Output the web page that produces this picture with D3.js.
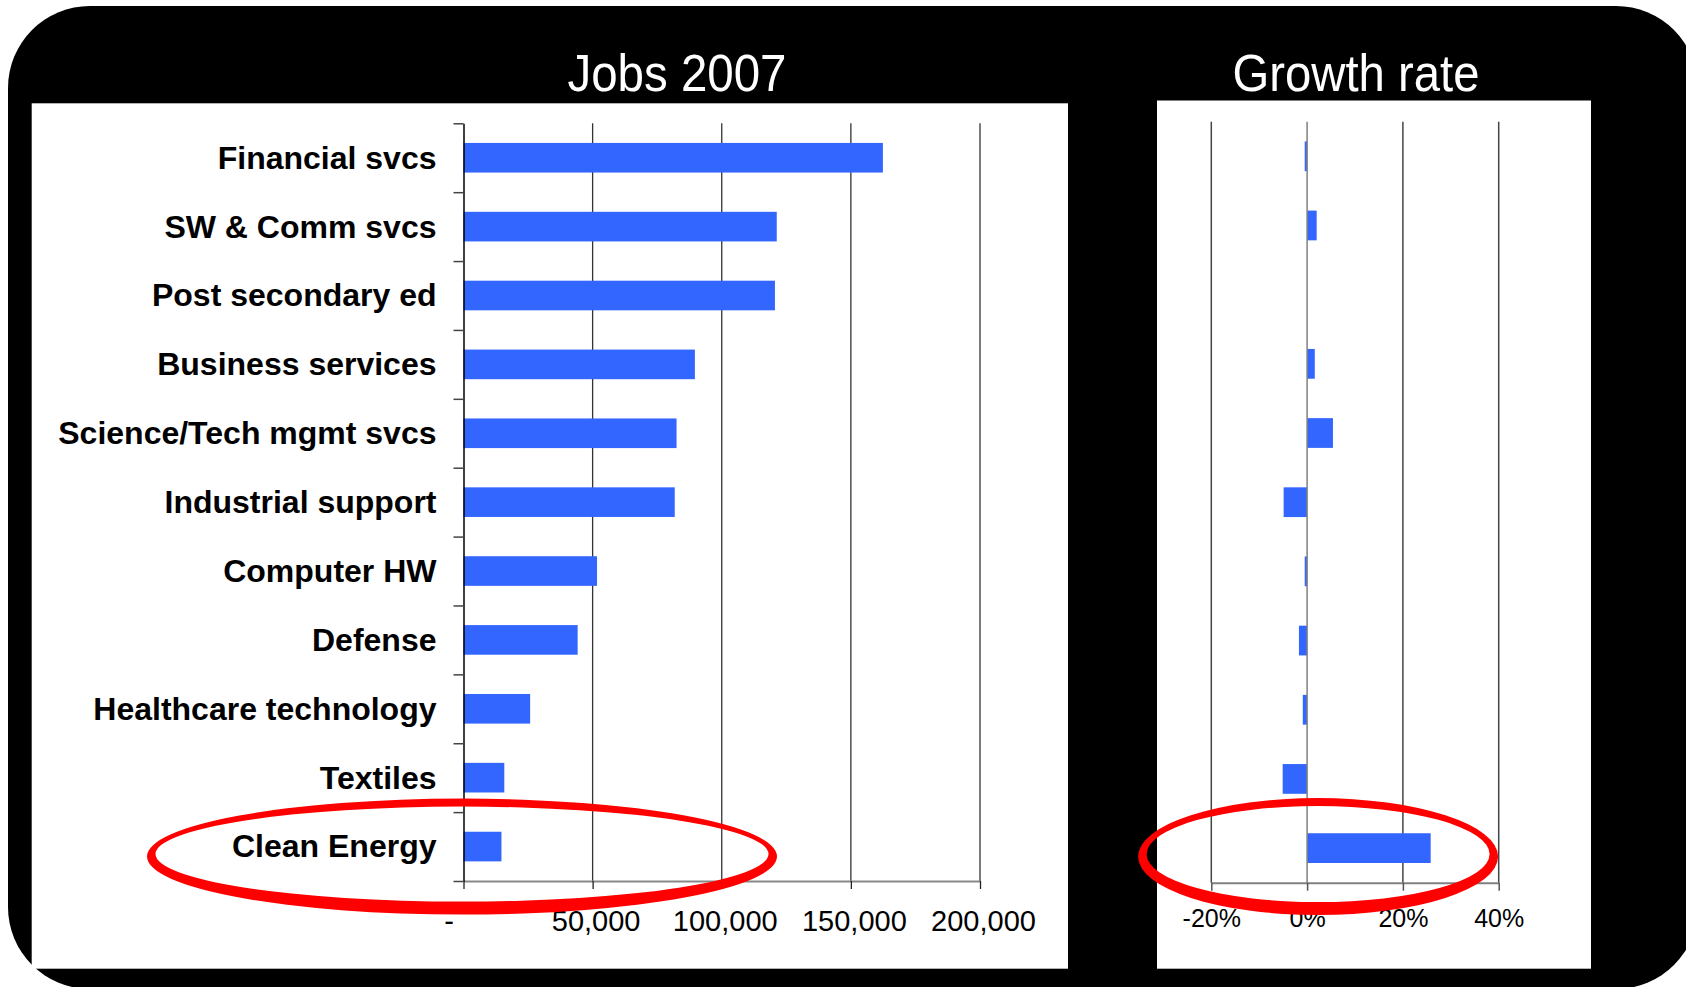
<!DOCTYPE html>
<html>
<head>
<meta charset="utf-8">
<script src="https://cdn.jsdelivr.net/npm/d3@7"></script>
<style>
  body { margin: 0; background: #fff; }
  text { font-family: "Liberation Sans", Arial, sans-serif; }
</style>
</head>
<body>
<div id="chart"></div>
<script>
const categories = [
  "Financial svcs", "SW & Comm svcs", "Post secondary ed", "Business services",
  "Science/Tech mgmt svcs", "Industrial support", "Computer HW", "Defense",
  "Healthcare technology", "Textiles", "Clean Energy"
];
const jobs2007 = [162400, 121300, 120600, 89600, 82500, 81800, 51700, 44200, 25800, 15800, 14700];
const growthRate = [-0.005, 0.020, 0, 0.016, 0.054, -0.049, -0.005, -0.017, -0.009, -0.051, 0.258];
const jobsTicks = [0, 50000, 100000, 150000, 200000];
const growthTicks = [-0.2, 0, 0.2, 0.4];
const highlighted = "Clean Energy";

const W = 1686, H = 987;
const barColor = "#3366ff";

const svg = d3.select("#chart").append("svg")
  .attr("width", W)
  .attr("height", H);

// black rounded frame and the two white panels
svg.append("rect")
  .attr("x", 8).attr("y", 6)
  .attr("width", 1690).attr("height", 983)
  .attr("rx", 82).attr("ry", 82)
  .attr("fill", "#000");
svg.append("rect")
  .attr("x", 31.7).attr("y", 103.3)
  .attr("width", 1068 - 31.7).attr("height", 968.7 - 103.3)
  .attr("fill", "#fff");
svg.append("rect")
  .attr("x", 1157).attr("y", 100.5)
  .attr("width", 1591 - 1157).attr("height", 968.7 - 100.5)
  .attr("fill", "#fff");

// titles
svg.append("text")
  .attr("x", 677).attr("y", 91)
  .attr("text-anchor", "middle")
  .attr("fill", "#fff")
  .attr("font-size", 52)
  .attr("textLength", 219).attr("lengthAdjust", "spacingAndGlyphs")
  .text("Jobs 2007");
svg.append("text")
  .attr("x", 1356).attr("y", 91)
  .attr("text-anchor", "middle")
  .attr("fill", "#fff")
  .attr("font-size", 52)
  .attr("textLength", 247).attr("lengthAdjust", "spacingAndGlyphs")
  .text("Growth rate");

// ---------- left chart: jobs ----------
const jobs = { top: 123.3, bottom: 881, left: 463.5, right: 980 };

const xJobs = d3.scaleLinear()
  .domain([0, 200000])
  .range([jobs.left, jobs.right]);

const yJobs = d3.scaleBand()
  .domain(categories)
  .range([jobs.top, jobs.bottom])
  .paddingInner(0.57)
  .paddingOuter(0.285);

const gJobs = svg.append("g");

// gridlines
gJobs.append("g")
  .selectAll("line")
  .data(jobsTicks.filter(d => d > 0))
  .join("line")
  .attr("x1", d => xJobs(d)).attr("x2", d => xJobs(d))
  .attr("y1", jobs.top).attr("y2", jobs.bottom)
  .attr("stroke", "#333")
  .attr("stroke-width", 1.3);

// bars
gJobs.append("g")
  .selectAll("rect")
  .data(categories)
  .join("rect")
  .attr("x", xJobs(0))
  .attr("y", d => yJobs(d))
  .attr("width", (d, i) => xJobs(jobs2007[i]) - xJobs(0))
  .attr("height", yJobs.bandwidth())
  .attr("fill", barColor);

// bottom value axis
const xAxisJobs = gJobs.append("g")
  .attr("transform", `translate(0,${jobs.bottom})`)
  .call(d3.axisBottom(xJobs)
    .tickValues(jobsTicks)
    .tickSize(8)
    .tickSizeOuter(0)
    .tickPadding(21)
    .tickFormat(d => d === 0 ? "-" : d3.format(",")(d)));
xAxisJobs.select(".domain").attr("stroke", "#888").attr("stroke-width", 2);
xAxisJobs.selectAll(".tick line").attr("stroke", "#222").attr("stroke-width", 1.3);
xAxisJobs.selectAll(".tick text")
  .attr("font-size", 29)
  .attr("fill", "#000")
  .attr("dx", d => d === 0 ? -15 : 3);

// category axis: ticks between categories, then the labels
const boundary = d3.scaleLinear()
  .domain([0, categories.length])
  .range([jobs.top, jobs.bottom]);
const catTicks = gJobs.append("g")
  .attr("transform", `translate(${xJobs(0)},0)`)
  .call(d3.axisLeft(boundary)
    .tickValues(d3.range(categories.length + 1))
    .tickSize(10)
    .tickSizeOuter(0)
    .tickFormat(""));
catTicks.select(".domain").attr("stroke", "#000").attr("stroke-width", 1.5);
catTicks.selectAll(".tick line").attr("stroke", "#444").attr("stroke-width", 1.5);

const catLabels = gJobs.append("g")
  .attr("transform", `translate(${xJobs(0)},0)`)
  .call(d3.axisLeft(yJobs).tickSize(0).tickPadding(27));
catLabels.select(".domain").remove();
catLabels.selectAll(".tick text")
  .attr("font-size", 32)
  .attr("font-weight", "bold")
  .attr("fill", "#000")
  .attr("dy", "0.34em");

// ---------- right chart: growth rate ----------
const growth = { top: 121.7, bottom: 882.7, left: 1211.3, right: 1498.7 };

const xGrowth = d3.scaleLinear()
  .domain([-0.2, 0.4])
  .range([growth.left, growth.right]);

const yGrowth = d3.scaleBand()
  .domain(categories)
  .range([growth.top, growth.bottom])
  .paddingInner(0.57)
  .paddingOuter(0.285);

const gGrowth = svg.append("g");

gGrowth.append("g")
  .selectAll("line")
  .data(growthTicks.filter(d => d !== 0))
  .join("line")
  .attr("x1", d => xGrowth(d)).attr("x2", d => xGrowth(d))
  .attr("y1", growth.top).attr("y2", growth.bottom)
  .attr("stroke", "#444")
  .attr("stroke-width", 1.5);

gGrowth.append("g")
  .selectAll("rect")
  .data(categories)
  .join("rect")
  .attr("x", (d, i) => xGrowth(Math.min(0, growthRate[i])))
  .attr("y", d => yGrowth(d))
  .attr("width", (d, i) => Math.abs(xGrowth(growthRate[i]) - xGrowth(0)))
  .attr("height", yGrowth.bandwidth())
  .attr("fill", barColor);

// zero line (category axis)
gGrowth.append("line")
  .attr("x1", xGrowth(0)).attr("x2", xGrowth(0))
  .attr("y1", growth.top).attr("y2", growth.bottom)
  .attr("stroke", "#808080")
  .attr("stroke-width", 1.5);

const pct = d3.format(".0%");
const xAxisGrowth = gGrowth.append("g")
  .attr("transform", `translate(0,${growth.bottom})`)
  .call(d3.axisBottom(xGrowth)
    .tickValues(growthTicks)
    .tickSize(8)
    .tickSizeOuter(0)
    .tickPadding(19)
    .tickFormat(d => pct(d).replace("\u2212", "-")));
xAxisGrowth.select(".domain").attr("stroke", "#808080").attr("stroke-width", 2);
xAxisGrowth.selectAll(".tick line").attr("stroke", "#555").attr("stroke-width", 1.5);
xAxisGrowth.selectAll(".tick text").attr("font-size", 25).attr("fill", "#000");

// ---------- red hand-drawn rings round Clean Energy ----------
function ellipse(cx, cy, rx, ry) {
  return `M${cx - rx},${cy}a${rx},${ry} 0 1,0 ${2 * rx},0a${rx},${ry} 0 1,0 ${-2 * rx},0Z`;
}
function ring(cx, cy, rx, ry) {
  // thinner on top, thicker at the bottom like a marker stroke
  return ellipse(cx, cy, rx, ry) + ellipse(cx, cy - 2.5, rx - 8.5, ry - 10.5);
}
const ringY = yJobs(highlighted) + yJobs.bandwidth() / 2 + 10;

svg.append("path")
  .attr("d", ring(xJobs(0) - 1.5, ringY, 315, 58))
  .attr("fill", "#ff0000")
  .attr("fill-rule", "evenodd");
svg.append("path")
  .attr("d", ring(xGrowth(0) + 11, ringY, 180, 58.5))
  .attr("fill", "#ff0000")
  .attr("fill-rule", "evenodd");
</script>
</body>
</html>
